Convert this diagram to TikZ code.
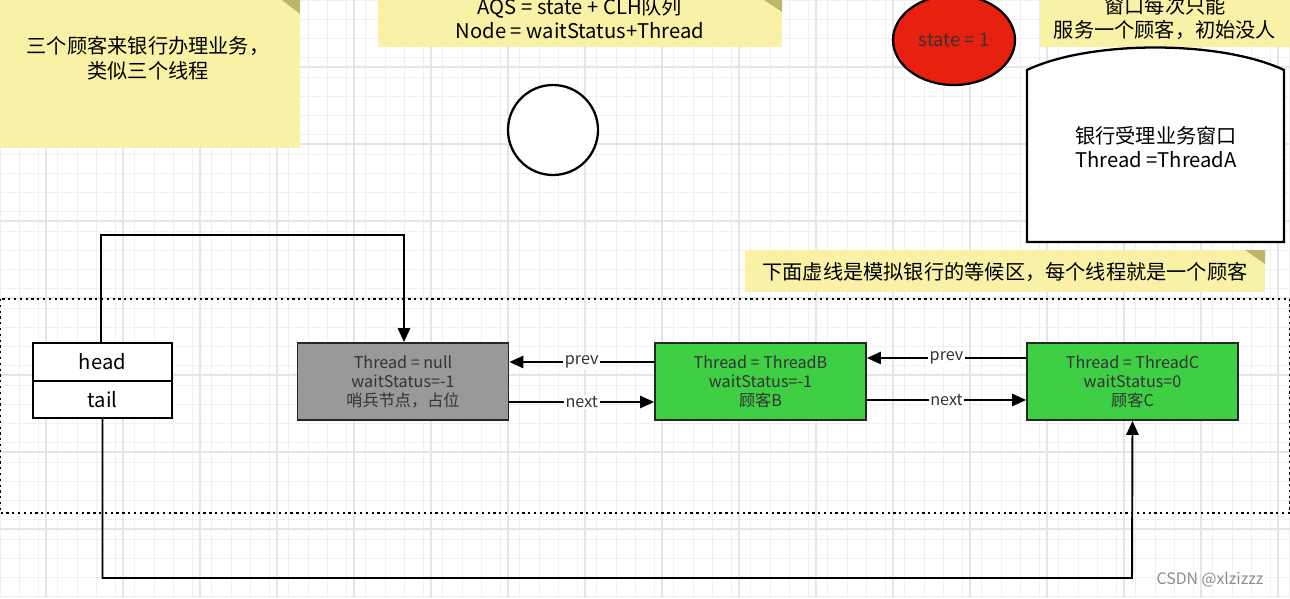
\documentclass[tikz,border=0pt]{standalone}
\usepackage{fontspec}
\setmainfont{Noto Sans CJK SC}
\usetikzlibrary{arrows.meta,shapes.geometric}
\definecolor{note}{HTML}{F8F1A6}
\definecolor{fold}{HTML}{BDB76B}
\definecolor{grn}{HTML}{3FCF45}
\definecolor{gry}{HTML}{999999}
\definecolor{redd}{HTML}{E82010}
\begin{document}
\begin{tikzpicture}[x=0.02cm,y=-0.02cm,
  notebox/.style={fill=note,draw=none},
  big/.style={font=\fontsize{11.5pt}{14pt}\selectfont,align=center},
  small/.style={font=\fontsize{9.2pt}{10.8pt}\selectfont,align=center,text=black!80},
  nd/.style={draw=black!85,line width=1pt,minimum width=211*0.02cm,minimum height=77*0.02cm,inner sep=0pt},
  arr/.style={line width=1.1pt,-{Triangle[length=8pt,width=7pt]}},
  lab/.style={fill=white,inner sep=1pt,font=\fontsize{9.2pt}{10pt}\selectfont,text=black!80}]
\useasboundingbox (0,0) rectangle (1290,598);
\fill[white] (0,0) rectangle (1290,598);
\foreach \x in {0,19.25,...,1290} \draw[black!6,line width=0.4pt] (\x,0) -- (\x,598);
\foreach \y in {0,19.25,...,598} \draw[black!6,line width=0.4pt] (0,\y) -- (1290,\y);
\foreach \x in {-31,46,...,1290} \draw[black!10,line width=0.8pt] (\x,0) -- (\x,598);
\foreach \y in {67,144,...,598} \draw[black!10,line width=0.8pt] (0,\y) -- (1290,\y);
% notes
\fill[notebox] (0,0) rectangle (300,148);
\fill[fold] (282,0) -- (300,14) -- (300,0) -- cycle;
\node[big] (n1) at (148,58) {三个顾客来银行办理业务，\\类似三个线程};
\fill[notebox] (378,0) rectangle (782,47);
\fill[fold] (764,0) -- (782,12) -- (782,0) -- cycle;
\node[big] (n2) at (580,18) {AQS = state + CLH队列\\Node = waitStatus+Thread};
\fill[notebox] (1040,0) rectangle (1290,47);
\node[big] (n3) at (1165,18) {窗口每次只能\\服务一个顾客，初始没人};
\fill[notebox] (745,250) rectangle (1265,292);
\fill[fold] (1245,250) -- (1265,264) -- (1265,250) -- cycle;
\node[big] (n4) at (1005,272) {下面虚线是模拟银行的等候区，每个线程就是一个顾客};
% circles
\draw[line width=1.3pt,fill=white] (553,130) circle (45);
\node[draw=black,line width=1.3pt,fill=redd,ellipse,minimum width=122*0.02cm,minimum height=90*0.02cm,inner sep=0pt,font=\fontsize{10.5pt}{12pt}\selectfont,text=black!80] (st) at (954,40) {state = 1};
% window
\draw[line width=1.3pt,fill=white] (1027,242) -- (1027,70) .. controls (1090,40) and (1220,40) .. (1284,70) -- (1284,242) -- cycle;
\node[big] (win) at (1156,147) {银行受理业务窗口\\Thread =ThreadA};
% waiting area
\draw[line width=1.3pt,dotted] (0,299) rectangle (1290,513);
% head tail
\node[draw=black,line width=1pt,minimum width=139*0.02cm,minimum height=37.5*0.02cm,inner sep=0pt,big,fill=white] (head) at (102.5,362) {head};
\node[draw=black,line width=1pt,minimum width=139*0.02cm,minimum height=37.5*0.02cm,inner sep=0pt,big,fill=white] (tail) at (102.5,399.5) {tail};
% nodes
\node[nd,fill=gry,small] (g) at (403,381.5) {Thread = null\\waitStatus=-1\\哨兵节点，占位};
\node[nd,fill=grn,small] (b) at (760.5,381.5) {Thread = ThreadB\\waitStatus=-1\\顾客B};
\node[nd,fill=grn,small] (c) at (1132.5,381.5) {Thread = ThreadC\\waitStatus=0\\顾客C};
% connectors
\draw[arr] (head.north -| 101,0) |- (404,235) -- (g.north -| 404,0);
\draw[arr] (tail.south) |- (1132,578) -- (c.south);
\draw[arr] (b.west |- 0,362) -- node[lab]{prev} (g.east |- 0,362);
\draw[arr] (g.east |- 0,402) -- node[lab]{next} (b.west |- 0,402);
\draw[arr] (c.west |- 0,358) -- node[lab]{prev} (b.east |- 0,358);
\draw[arr] (b.east |- 0,400) -- node[lab]{next} (c.west |- 0,400);
\node[text=black!45,font=\fontsize{9pt}{10pt}\selectfont] (csdn) at (1210,580) {CSDN @xlzizzz};
\end{tikzpicture}
\end{document}
